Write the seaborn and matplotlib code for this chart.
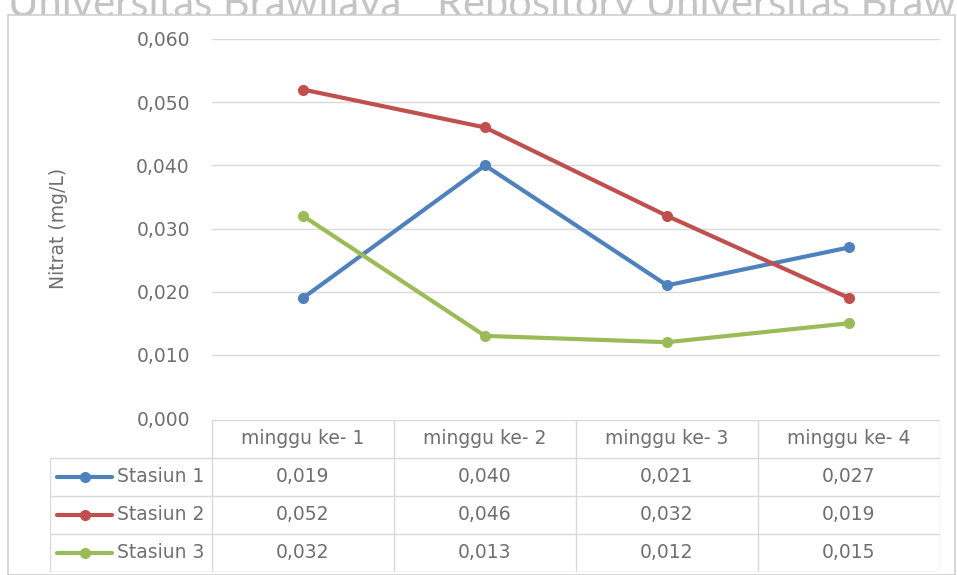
import numpy as np
import pandas as pd
import matplotlib
matplotlib.use('Agg')
import matplotlib.pyplot as plt
import seaborn as sns
from matplotlib.ticker import FuncFormatter, MultipleLocator
from matplotlib.patches import Rectangle

weeks = ['minggu ke- 1', 'minggu ke- 2', 'minggu ke- 3', 'minggu ke- 4']
stations = ['Stasiun 1', 'Stasiun 2', 'Stasiun 3']
stasiun1 = [0.019, 0.040, 0.021, 0.027]
stasiun2 = [0.052, 0.046, 0.032, 0.019]
stasiun3 = [0.032, 0.013, 0.012, 0.015]
colors = ['#4F81BD', '#C0504D', '#9BBB59']

df = pd.DataFrame({
    'minggu': weeks * 3,
    'stasiun': np.repeat(stations, 4),
    'nitrat': stasiun1 + stasiun2 + stasiun3,
})

sns.set_style('white')
plt.rcParams['font.family'] = ['DejaVu Sans']
txt = '#6f6f6f'
grid = '#d9d9d9'
fs = 13.5

W, H = 957, 575
fig = plt.figure(figsize=(W / 100, H / 100), dpi=100)

# watermark text at the top, partly hidden behind the chart box
fig.text(8 / W, 1 - 17 / H, 'Universitas Brawijaya', fontsize=30, color='#c4c4c4',
         va='baseline', family='Lato', zorder=0)
fig.text(437 / W, 1 - 17 / H, 'Repository Universitas Brawijaya', fontsize=30, color='#c4c4c4',
         va='baseline', family='Lato', zorder=0)
fig.patches.append(Rectangle((8 / W, 0), 947 / W, 1 - 15 / H, transform=fig.transFigure,
                             facecolor='white', edgecolor='#d0d0d0', lw=1.2, zorder=1))

# main line chart
ax = fig.add_axes([212 / W, 1 - 418 / H, 728 / W, 379 / H])
ax.set_zorder(3)
sns.lineplot(data=df, x='minggu', y='nitrat', hue='stasiun', palette=colors, marker='o',
             markersize=8, markeredgewidth=0, linewidth=3, legend=False, ax=ax, sort=False)
ax.set_xlim(-0.5, 3.5)
ax.set_ylim(0, 0.060)
ax.yaxis.set_major_locator(MultipleLocator(0.010))
ax.yaxis.set_major_formatter(FuncFormatter(lambda v, p: f'{v:.3f}'.replace('.', ',')))
ax.grid(axis='y', color=grid, lw=1)
ax.grid(axis='x', visible=False)
for s in ax.spines.values():
    s.set_visible(False)
ax.set_xticks([])
ax.set_xlabel('')
ax.tick_params(axis='y', length=0, pad=16, labelsize=fs, labelcolor=txt)
ax.set_ylabel('Nitrat (mg/L)', fontsize=fs, color=txt)
ax.yaxis.set_label_coords(-0.198, 0.50)
ax.patch.set_alpha(0)

# data table below the chart
tab = fig.add_axes([50 / W, 1 - 572 / H, 890 / W, 152 / H])
tab.set_zorder(2)
left = -0.5 - 162 / 182
tab.set_xlim(left, 3.5)
tab.set_ylim(4, 0)
tab.axis('off')
for xb in [-0.5, 0.5, 1.5, 2.5, 3.5]:
    tab.plot([xb, xb], [0, 4], color=grid, lw=1)
tab.plot([left, left], [1, 4], color=grid, lw=1)
tab.plot([-0.5, 3.5], [0, 0], color=grid, lw=1)
for yb in [1, 2, 3, 4]:
    tab.plot([left, 3.5], [yb, yb], color=grid, lw=1)
for i, w in enumerate(weeks):
    tab.text(i, 0.5, w, ha='center', va='center', fontsize=fs, color=txt)
for r, (name, vals, c) in enumerate(zip(stations, [stasiun1, stasiun2, stasiun3], colors), start=1):
    tab.plot([left + 0.04, left + 0.34], [r + 0.5, r + 0.5], color=c, lw=3)
    tab.plot([left + 0.19], [r + 0.5], marker='o', color=c, markersize=8, markeredgewidth=0)
    tab.text(left + 0.37, r + 0.5, name, ha='left', va='center', fontsize=fs, color=txt)
    for i, v in enumerate(vals):
        tab.text(i, r + 0.5, f'{v:.3f}'.replace('.', ','), ha='center', va='center', fontsize=fs, color=txt)

fig.savefig('out.png', dpi=100)
